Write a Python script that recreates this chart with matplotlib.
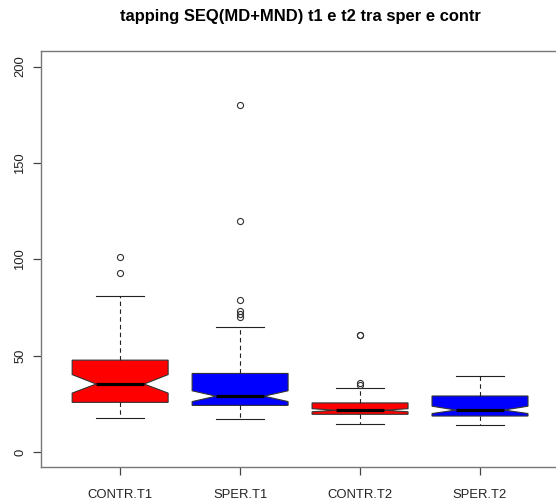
import matplotlib
matplotlib.use("Agg")
import matplotlib.pyplot as plt

plt.rcParams['font.family'] = ['Liberation Sans', 'DejaVu Sans']

# gruppi e statistiche dei boxplot (tapping SEQ)
gruppi = ["CONTR.T1", "SPER.T1", "CONTR.T2", "SPER.T2"]
colori = ["#ff0000", "#0000ff", "#ff0000", "#0000ff"]
mediane = [35.3, 29.0, 21.7, 21.8]
q1 = [25.8, 24.2, 19.6, 18.7]
q3 = [47.7, 40.8, 25.5, 29.1]
baffo_inf = [17.9, 17.0, 14.8, 14.2]
baffo_sup = [81.0, 64.7, 33.0, 39.4]
notch_inf = [30.6, 26.2, 20.9, 20.0]
notch_sup = [40.2, 31.8, 22.5, 23.8]
outlier = [[101, 93],
           [180, 120, 79, 73, 71.5, 70],
           [61, 61, 36, 35],
           []]

stats = []
for i in range(len(gruppi)):
    stats.append(dict(label=gruppi[i], med=mediane[i], q1=q1[i], q3=q3[i],
                      whislo=baffo_inf[i], whishi=baffo_sup[i],
                      cilo=notch_inf[i], cihi=notch_sup[i],
                      fliers=outlier[i]))

fig = plt.figure(figsize=(5.56, 5.03), dpi=100)
ax = fig.add_axes([0.0737, 0.0706, 0.932, 0.8276])

bp = ax.bxp(stats, positions=[1, 2, 3, 4], widths=0.8, shownotches=True,
            patch_artist=True,
            boxprops=dict(edgecolor="#333333", linewidth=0.8),
            medianprops=dict(color="black", linewidth=2.3, solid_capstyle="butt"),
            whiskerprops=dict(color="#222222", linewidth=0.8, linestyle=(0, (4, 3))),
            capprops=dict(color="#222222", linewidth=0.8),
            flierprops=dict(marker="o", markersize=4.4, markerfacecolor="none",
                            markeredgecolor="#333333", markeredgewidth=0.8))
for patch, c in zip(bp["boxes"], colori):
    patch.set_facecolor(c)

ax.set_xlim(0.34, 4.66)
ax.set_ylim(-8, 208)
ax.set_yticks([0, 50, 100, 150, 200])
ax.set_xticks([1, 2, 3, 4])
ax.set_xticklabels(gruppi)

for s in ax.spines.values():
    s.set_color("#777777")
    s.set_linewidth(1.0)
ax.tick_params(axis="both", colors="#444444", labelcolor="#222222",
               length=5.5, width=0.9, labelsize=9.4)
ax.tick_params(axis="x", pad=10)
ax.tick_params(axis="y", pad=5)
for lab in ax.get_yticklabels():
    lab.set_rotation(90)
    lab.set_verticalalignment("center")

fig.text(0.54, 0.967, "tapping SEQ(MD+MND) t1 e t2 tra sper e contr",
         ha="center", va="center", fontsize=11.9, fontweight="bold")

fig.savefig("out.png", dpi=100)
